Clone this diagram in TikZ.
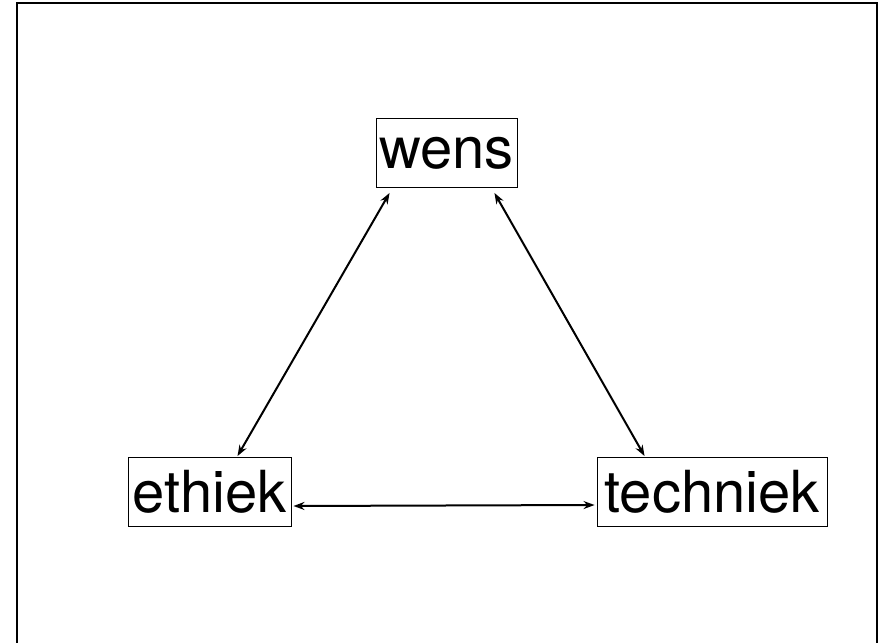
\documentclass[tikz,border=0pt]{standalone}
\usepackage{fontspec}
\setmainfont{TeX Gyre Heros}
\usetikzlibrary{arrows.meta}

\begin{document}
\begin{tikzpicture}[x=1pt,y=-1pt]
\tikzstyle{every node}+=[inner sep=0pt]
\tikzstyle{term}=[draw=black,line width=0.9pt,minimum height=69pt,font=\fontsize{58}{58}\selectfont]
\tikzstyle{link}=[black,line width=2pt,{Stealth[length=11pt,width=8pt]}-{Stealth[length=11pt,width=8pt]}]
\useasboundingbox (0,0) rectangle (879,643);
\draw [black,line width=1.5pt] (17,650) -- (17,3) -- (877,3) -- (877,650);
\node [term,minimum width=141pt] (wens) at (446.5,153) {wens};
\node [term,minimum width=163pt] (ethiek) at (209.5,492) {ethiek};
\node [term,minimum width=230pt] (techniek) at (712,492) {techniek};
\draw [link] ([xshift=14pt,yshift=-5pt]wens.south west) -- ([xshift=28pt,yshift=1pt]ethiek.north);
\draw [link] ([xshift=-23pt,yshift=-5pt]wens.south east) -- ([xshift=48pt,yshift=1pt]techniek.north west);
\draw [link] ([xshift=2pt,yshift=-14pt]ethiek.east) -- ([xshift=-2pt,yshift=-13pt]techniek.west);
\end{tikzpicture}
\end{document}
